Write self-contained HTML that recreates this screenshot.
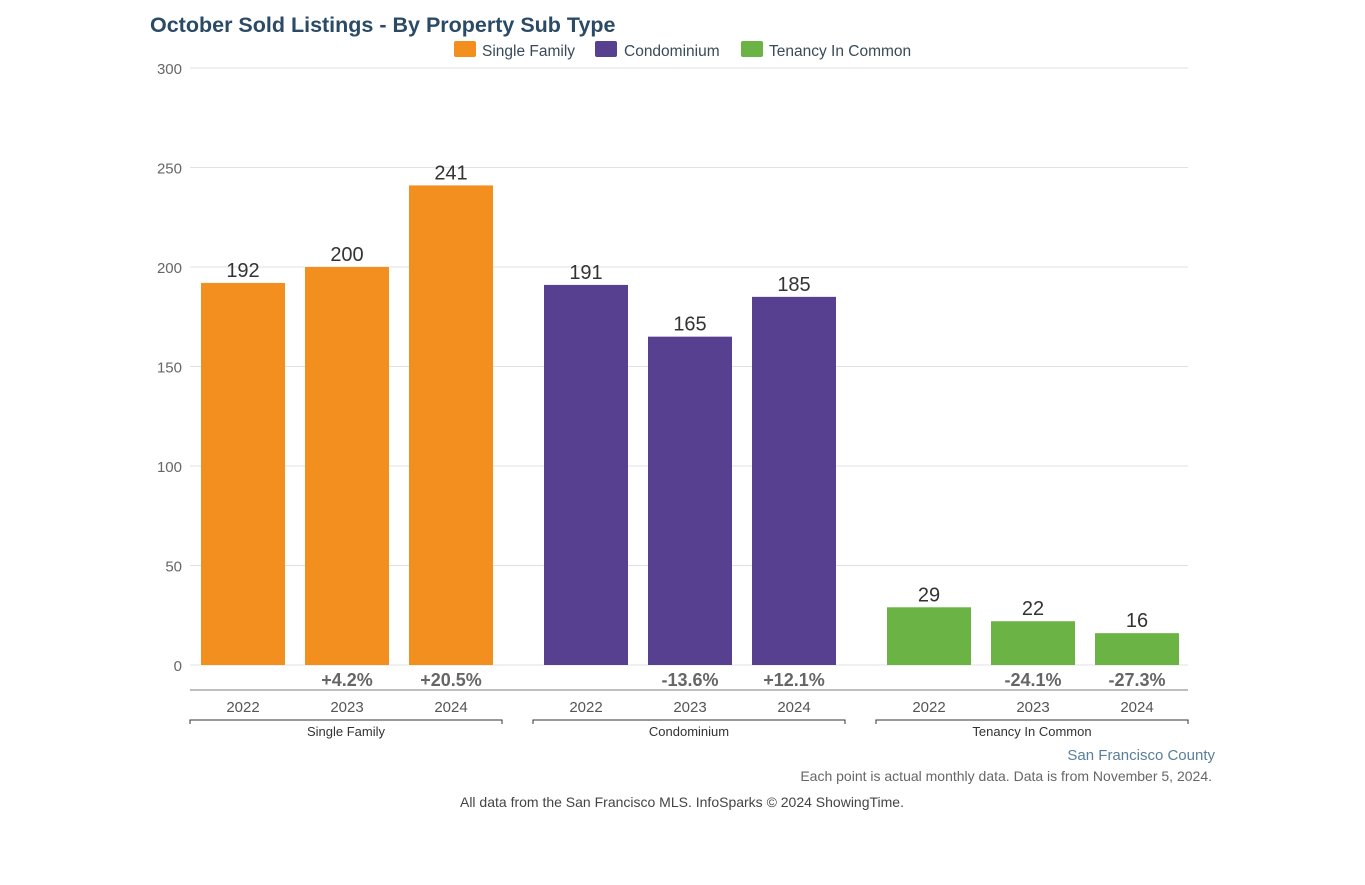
<!DOCTYPE html>
<html><head><meta charset="utf-8"><style>
body{margin:0;background:#fff;width:1365px;height:885px;overflow:hidden;font-family:"Liberation Sans",Arial,sans-serif}
</style></head><body>
<svg id="c" width="1365" height="885" style="position:absolute;left:0;top:0">
<text x="150" y="32" font-size="21.5" font-weight="bold" fill="#2b4a66">October Sold Listings - By Property Sub Type</text>
<g>
<rect x="454" y="41" width="22" height="16" rx="2" fill="#f28f1f"/>
<text x="482" y="56" font-size="15.5" fill="#3a4a5a">Single Family</text>
<rect x="595" y="41" width="22" height="16" rx="2" fill="#57408f"/>
<text x="624" y="56" font-size="15.5" fill="#3a4a5a">Condominium</text>
<rect x="741" y="41" width="22" height="16" rx="2" fill="#6bb344"/>
<text x="769" y="56" font-size="15.5" fill="#3a4a5a">Tenancy In Common</text>
</g>
<text x="1215" y="760" font-size="15" fill="#5a7f9a" text-anchor="end">San Francisco County</text>
<text x="1212" y="781" font-size="14" fill="#666" text-anchor="end">Each point is actual monthly data. Data is from November 5, 2024.</text>
<text x="682" y="807" font-size="14" fill="#444" text-anchor="middle">All data from the San Francisco MLS. InfoSparks © 2024 ShowingTime.</text>
</svg>
<script>
const groups=["Single Family","Condominium","Tenancy In Common"];
const years=["2022","2023","2024"];
const singleFamily=[192,200,241];
const condominium=[191,165,185];
const tenancyInCommon=[29,22,16];
const yTicks=[0,50,100,150,200,250,300];
const series=[singleFamily,condominium,tenancyInCommon];
const colors=["#f28f1f","#57408f","#6bb344"];
const svg=document.getElementById('c');
const NS="http://www.w3.org/2000/svg";
const x0=190,x1=1188,y0=665,y1=68,yMax=300;
const yS=v=>y0-(v/yMax)*(y0-y1);
const gap=31;
const gW=(x1-x0+gap)/groups.length;
const bW=gW-gap;
const step=104,bw=84;
const bx=(g,i)=>x0+g*gW+bW/2+(i-1)*step-bw/2+1;
function mk(t,a,txt){const e=document.createElementNS(NS,t);for(const k in a)e.setAttribute(k,a[k]);if(txt!=null)e.textContent=txt;svg.appendChild(e);return e;}
yTicks.forEach(v=>{
 const l=mk('line',{x1:x0,x2:x1,y1:yS(v),y2:yS(v),stroke:'#e2e2e2','stroke-width':1});
 
 
 const t=mk('text',{x:182,y:yS(v)+6,'font-size':15,fill:'#666','text-anchor':'end'},v);
 
 
});
const ax=mk('line',{x1:x0,x2:x1,y1:690,y2:690,stroke:'#999','stroke-width':1.2});


series.forEach((s,g)=>{
 s.forEach((v,i)=>{
  const x=bx(g,i);
  const r=mk('rect',{x:x,y:yS(v),width:bw,height:y0-yS(v),fill:colors[g]});
  
  
  const t=mk('text',{x:x+bw/2,y:yS(v)-6,'font-size':20,fill:'#333','text-anchor':'middle'},v);
  
  
  if(i>0){
   const p=(v-s[i-1])/s[i-1]*100;
   const pt=mk('text',{x:x+bw/2,y:686,'font-size':18,'font-weight':'bold',fill:'#666','text-anchor':'middle'},(p>=0?'+':'')+p.toFixed(1)+'%');
   
   
  }
  const yl=mk('text',{x:x+bw/2,y:712,'font-size':15,fill:'#555','text-anchor':'middle'},years[i]);
  
  
 });
 const gx0=x0+g*gW, gx1=gx0+bW;
 const b=mk('path',{d:`M${gx0} 724V720H${gx1}V724`,stroke:'#333',fill:'none','stroke-width':1});
 
 
 const gl=mk('text',{x:(gx0+gx1)/2,y:736,'font-size':13,fill:'#333','text-anchor':'middle'},groups[g]);
 
 
});
</script>
</body></html>
